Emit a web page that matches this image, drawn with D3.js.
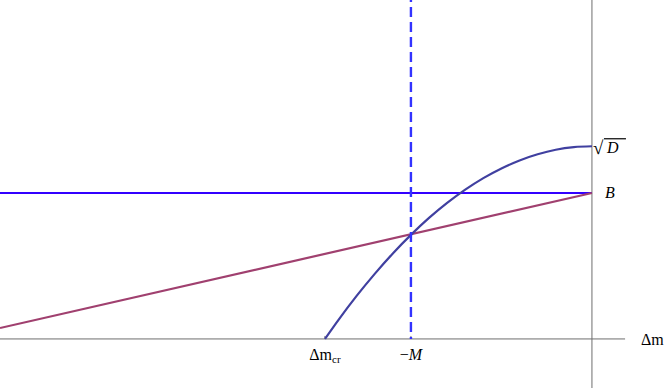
<!DOCTYPE html>
<meta charset="utf-8">
<style>
body { margin: 0; background: #fff; }
.axis line { stroke: #6e6e6e; stroke-width: 1px; }
.lbl { font-family: "Liberation Serif", "Times New Roman", serif; font-size: 16px; fill: #000; }
</style>
<body></body>
<script src="https://d3js.org/d3.v7.min.js"></script>
<script>
// values (Δm on x, value on y)
var xDomain = [-3.27, 0.398],
    yDomain = [-0.336, 2.322];
var dmCr = -1.475, minusM = -1, B = 1, sqrtD = 1.32;

var curveDm  = [-1.475, -1.4, -1.3, -1.2, -1.1, -1.0, -0.9, -0.8, -0.7, -0.6, -0.5, -0.4, -0.3, -0.2, -0.1, 0];
var curveVal = [0, 0.131, 0.295, 0.446, 0.586, 0.713, 0.829, 0.932, 1.023, 1.102, 1.168, 1.223, 1.265, 1.296, 1.314, 1.32];

var lineDm  = [-3.27, 0];
var lineVal = [0.075, 1];

var hLineDm = [-3.27, 0];
var axisEnd = 0.183;

var width = 664, height = 388;

var svg = d3.select("body").append("svg")
    .attr("width", width)
    .attr("height", height);

var x = d3.scaleLinear().domain(xDomain).range([0, width]),
    y = d3.scaleLinear().domain(yDomain).range([height, 0]);

// axes
var ax = svg.append("g").attr("class", "axis");
ax.append("line")
    .attr("x1", x(xDomain[0])).attr("x2", x(axisEnd))
    .attr("y1", y(0)).attr("y2", y(0));
ax.append("line")
    .attr("x1", x(0)).attr("x2", x(0))
    .attr("y1", y(yDomain[1])).attr("y2", y(yDomain[0]));
ax.selectAll(".tick")
    .data([dmCr, minusM])
    .enter().append("line")
      .attr("x1", function(d) { return x(d); })
      .attr("x2", function(d) { return x(d); })
      .attr("y1", y(0))
      .attr("y2", y(0) - 3);

var line = d3.line()
    .x(function(d) { return x(d[0]); })
    .y(function(d) { return y(d[1]); });

// horizontal B line
svg.append("path")
    .datum(hLineDm.map(function(d) { return [d, B]; }))
    .attr("d", line)
    .attr("fill", "none")
    .attr("stroke", "#3300ff")
    .attr("stroke-width", 2.2);

// purple line
svg.append("path")
    .datum(d3.zip(lineDm, lineVal))
    .attr("d", line)
    .attr("fill", "none")
    .attr("stroke", "#a0406f")
    .attr("stroke-width", 2.2);

// curve
svg.append("path")
    .datum(d3.zip(curveDm, curveVal))
    .attr("d", line.curve(d3.curveMonotoneX))
    .attr("fill", "none")
    .attr("stroke", "#4040a0")
    .attr("stroke-width", 2.2);

// dashed -M line
svg.append("line")
    .attr("x1", x(minusM)).attr("x2", x(minusM))
    .attr("y1", y(yDomain[1])).attr("y2", y(0))
    .attr("stroke", "#3333ff")
    .attr("stroke-width", 2.4)
    .attr("stroke-dasharray", "10,5")
    .attr("stroke-dashoffset", 8);

// labels
svg.append("text").attr("class", "lbl")
    .attr("x", x(axisEnd) + 16).attr("y", y(0) + 6)
    .text("Δm");

var cr = svg.append("text").attr("class", "lbl")
    .attr("x", x(dmCr)).attr("y", y(0) + 21)
    .attr("text-anchor", "middle");
cr.append("tspan").text("Δm");
cr.append("tspan").attr("dy", 3).style("font-size", "11px").text("cr");

var m = svg.append("text").attr("class", "lbl")
    .attr("x", x(minusM)).attr("y", y(0) + 21)
    .attr("text-anchor", "middle");
m.append("tspan").text("−");
m.append("tspan").attr("font-style", "italic").text("M");

svg.append("text").attr("class", "lbl")
    .attr("x", x(0) + 13).attr("y", y(B) + 5)
    .attr("font-style", "italic")
    .text("B");

var sq = svg.append("g").attr("transform", "translate(" + (x(0) + 1) + "," + y(sqrtD) + ")");
sq.append("text").attr("class", "lbl")
    .attr("x", 0).attr("y", 8)
    .style("font-size", "19px")
    .text("√");
sq.append("line")
    .attr("x1", 11).attr("x2", 33)
    .attr("y1", -7.5).attr("y2", -7.5)
    .attr("stroke", "#000").attr("stroke-width", 1.2);
sq.append("text").attr("class", "lbl")
    .attr("x", 14).attr("y", 7)
    .attr("font-style", "italic")
    .text("D");
</script>
